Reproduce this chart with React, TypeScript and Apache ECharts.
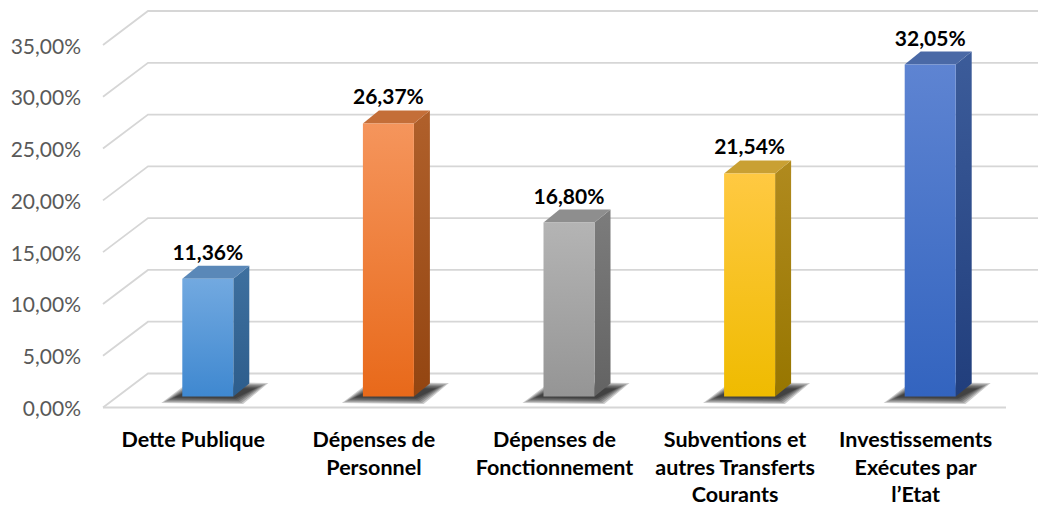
import React, { useEffect, useRef } from "react";
import * as echarts from "echarts";

const categories = [
  "Dette Publique",
  "Dépenses de\nPersonnel",
  "Dépenses de\nFonctionnement",
  "Subventions et\nautres Transferts\nCourants",
  "Investissements\nExécutes par\nl’Etat",
];
const values = [11.36, 26.37, 16.8, 21.54, 32.05];
const yTicks = [0, 5, 10, 15, 20, 25, 30, 35];

const faceColors = [
  { front: ["#72A9E0", "#3F88D0"], side: ["#3E709F", "#2D5D8C"], top: "#5A88B8" },
  { front: ["#F5955C", "#E8691A"], side: ["#B0602B", "#934511"], top: "#C46E38" },
  { front: ["#B4B4B4", "#959595"], side: ["#7C7C7C", "#636363"], top: "#8E8E8E" },
  { front: ["#FFC942", "#EFBB00"], side: ["#B08A1E", "#977600"], top: "#C9A033" },
  { front: ["#5E84D2", "#3364BF"], side: ["#3C5C9A", "#213E7C"], top: "#4A69A6" },
];

const fmt = (v: number) => v.toFixed(2).replace(".", ",") + "%";

const DX = 45; // wall depth
const DY = 34;
const BAR_W = 51;
const BDX = 16; // bar depth
const BDY = 13;
const BAR_INSET_X = 14.5;
const BAR_INSET_Y = 11;

export default function App() {
  const ref = useRef<HTMLDivElement>(null);
  useEffect(() => {
    document.body.style.margin = "0";
    if (!ref.current) return;
    const chart = echarts.init(ref.current, undefined, { renderer: "svg" });
    const lineColor = "#d6d6d6";
    chart.setOption({
      animation: false,
      grid: { left: 103, right: 32, top: 45, bottom: 97, containLabel: false },
      xAxis: {
        type: "category",
        data: categories,
        axisLine: { show: false },
        axisTick: { show: false },
        axisLabel: {
          interval: 0,
          margin: 18,
          fontFamily: "Lato",
          fontWeight: "bold",
          fontSize: 21.5,
          lineHeight: 27.5,
          color: "#000",
        },
      },
      yAxis: {
        type: "value",
        min: 0,
        max: 35,
        interval: 5,
        axisLine: { show: false },
        axisTick: { show: false },
        splitLine: { show: false },
        axisLabel: {
          margin: 22,
          fontFamily: "Lato",
          fontSize: 21,
          color: "#595959",
          formatter: (v: number) => fmt(v),
        },
      },
      series: [
        {
          type: "custom",
          silent: true,
          z: 1,
          data: yTicks.map((t) => [0, t]),
          renderItem: (params: any, api: any) => {
            const cs = params.coordSys;
            const p = api.coord([0, api.value(1)]);
            const y = p[1];
            const left = cs.x;
            const children: any[] = [
              {
                type: "polyline",
                shape: {
                  points: [
                    [left, y],
                    [left + DX, y - DY],
                    [left + cs.width + DX + 60, y - DY],
                  ],
                },
                style: { stroke: lineColor, lineWidth: 1.8, fill: "none" },
              },
            ];
            if (api.value(1) === 0) {
              children.push({
                type: "line",
                shape: { x1: left, y1: y, x2: left + cs.width, y2: y },
                style: { stroke: lineColor, lineWidth: 1.8 },
              });
            }
            return { type: "group", children };
          },
        },
        {
          type: "custom",
          silent: true,
          z: 2,
          data: values.map((v, i) => [i, v]),
          renderItem: (params: any, api: any) => {
            const i = api.value(0);
            const v = api.value(1);
            const c = faceColors[i];
            const base = api.coord([i, 0]);
            const top = api.coord([i, v]);
            const cx = base[0] + BAR_INSET_X;
            const by = base[1] - BAR_INSET_Y;
            const ty = top[1] - BAR_INSET_Y;
            const x0 = cx - BAR_W / 2;
            const x1 = cx + BAR_W / 2;
            const grad = (a: string, b: string) =>
              new echarts.graphic.LinearGradient(0, 0, 0, 1, [
                { offset: 0, color: a },
                { offset: 1, color: b },
              ]);
            const shadows: any[] = [];
            const layers = 6;
            for (let k = 0; k < layers; k++) {
              const g = (layers - 1 - k) * 2.6;
              const gy = (layers - 1 - k) * 1.1;
              shadows.push({
                type: "polygon",
                shape: {
                  points: [
                    [x0 - 8 - g, by + 1 + gy],
                    [x1 + 2 + g * 0.6, by + 2 + gy],
                    [x1 + 22 + g, by - 8 - gy],
                    [x0 + 12 - g * 0.4, by - 9 - gy],
                  ],
                },
                style: { fill: "rgba(0,0,0,0.2)" },
              });
            }
            return {
              type: "group",
              children: [
                ...shadows,
                {
                  type: "polygon",
                  shape: {
                    points: [
                      [x1, ty],
                      [x1 + BDX, ty - BDY],
                      [x1 + BDX, by - BDY],
                      [x1, by],
                    ],
                  },
                  style: { fill: grad(c.side[0], c.side[1]) },
                },
                {
                  type: "polygon",
                  shape: {
                    points: [
                      [x0, ty],
                      [x0 + BDX, ty - BDY],
                      [x1 + BDX, ty - BDY],
                      [x1, ty],
                    ],
                  },
                  style: { fill: c.top },
                },
                {
                  type: "rect",
                  shape: { x: x0, y: ty, width: BAR_W, height: by - ty },
                  style: { fill: grad(c.front[0], c.front[1]) },
                },
                {
                  type: "text",
                  x: cx,
                  y: ty - BDY - 4,
                  style: {
                    text: fmt(v),
                    align: "center",
                    verticalAlign: "bottom",
                    fontFamily: "Lato",
                    fontWeight: "bold",
                    fontSize: 21,
                    fill: "#000",
                  },
                },
              ],
            };
          },
        },
      ],
    });
    return () => chart.dispose();
  }, []);
  return <div ref={ref} style={{ width: 1038, height: 508 }} />;
}
